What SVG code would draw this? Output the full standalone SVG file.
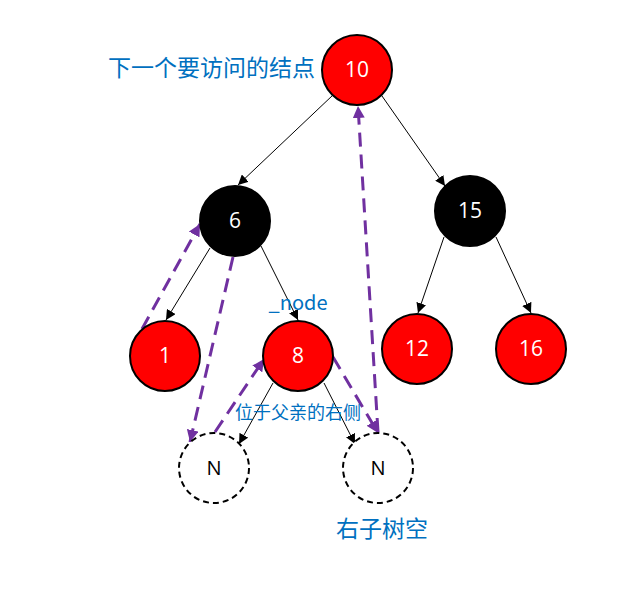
<svg xmlns="http://www.w3.org/2000/svg" width="636" height="590" viewBox="0 0 636 590">
<style>
.red{fill:#FF0000;stroke:#000;stroke-width:2}
.blk{fill:#000;stroke:#000;stroke-width:2}
.nil{fill:#fff;stroke:#000;stroke-width:2;stroke-dasharray:6 4}
.lbl{font-family:"Open Sans","Liberation Sans",sans-serif;font-size:21px;fill:#fff;text-anchor:middle}
.nl{font-family:"Open Sans","Liberation Sans",sans-serif;font-size:20px;fill:#000;text-anchor:middle}
.edge{stroke:#000;stroke-width:1;fill:none;marker-end:url(#ah)}
.dash{stroke:#7030A0;stroke-width:3;fill:none;stroke-dasharray:14 8;marker-end:url(#ap)}
.note{font-family:"Noto Sans CJK SC","Open Sans",sans-serif;fill:#0070C0}
</style>
<defs>
<marker id="ah" viewBox="0 0 10 10" refX="10" refY="5" markerWidth="10" markerHeight="10" markerUnits="userSpaceOnUse" orient="auto"><path d="M0,0 L10,5 L0,10 z" fill="#000"/></marker>
<marker id="ap" viewBox="0 0 10 10" refX="10" refY="5" markerWidth="4" markerHeight="4" orient="auto"><path d="M0,0 L10,5 L0,10 z" fill="#7030A0"/></marker>
</defs>
<g id="connectors">
<line class="edge" x1="333" y1="95" x2="238" y2="185"/>
<line class="edge" x1="382" y1="96" x2="445" y2="186"/>
<line class="edge" x1="210" y1="248" x2="166" y2="320"/>
<line class="edge" x1="261" y1="246" x2="298" y2="320"/>
<line class="edge" x1="444" y1="237" x2="418" y2="313"/>
<line class="edge" x1="496" y1="237" x2="531" y2="313"/>
<line class="edge" x1="273" y1="383" x2="239" y2="444"/>
<line class="edge" x1="324" y1="383" x2="355" y2="444"/>
<line class="dash" x1="142" y1="329" x2="200" y2="224"/>
<line class="dash" x1="233" y1="257" x2="190" y2="442"/>
<line class="dash" x1="215" y1="432" x2="264" y2="359"/>
<line class="dash" x1="333" y1="357" x2="378" y2="433"/>
<line class="dash" x1="378" y1="432" x2="358" y2="106"/>
</g>
<g id="n10"><circle class="red" cx="357" cy="70" r="35"/><text class="lbl" x="357" y="77">10</text></g>
<g id="n6"><circle class="blk" cx="235" cy="221" r="35"/><text class="lbl" x="235" y="228">6</text></g>
<g id="n15"><circle class="blk" cx="470" cy="211" r="35"/><text class="lbl" x="470" y="218">15</text></g>
<g id="n1"><circle class="red" cx="165" cy="356" r="35"/><text class="lbl" x="165" y="363">1</text></g>
<g id="n8"><circle class="red" cx="298" cy="356" r="35"/><text class="lbl" x="298" y="363">8</text></g>
<g id="n12"><circle class="red" cx="417" cy="349" r="35"/><text class="lbl" x="417" y="356">12</text></g>
<g id="n16"><circle class="red" cx="531" cy="349" r="35"/><text class="lbl" x="531" y="356">16</text></g>
<g id="nilL"><circle class="nil" cx="214" cy="468" r="35"/><text class="nl" x="214" y="475">N</text></g>
<g id="nilR"><circle class="nil" cx="378" cy="468" r="35"/><text class="nl" x="378" y="475">N</text></g>
<g id="notes">
<text class="note" x="108" y="76" font-size="23">下一个要访问的结点</text>
<text class="note" x="298" y="310" font-size="20" text-anchor="middle">_node</text>
<text class="note" x="298" y="419" font-size="18" text-anchor="middle">位于父亲的右侧</text>
<text class="note" x="336" y="537" font-size="23">右子树空</text>
</g>
</svg>
